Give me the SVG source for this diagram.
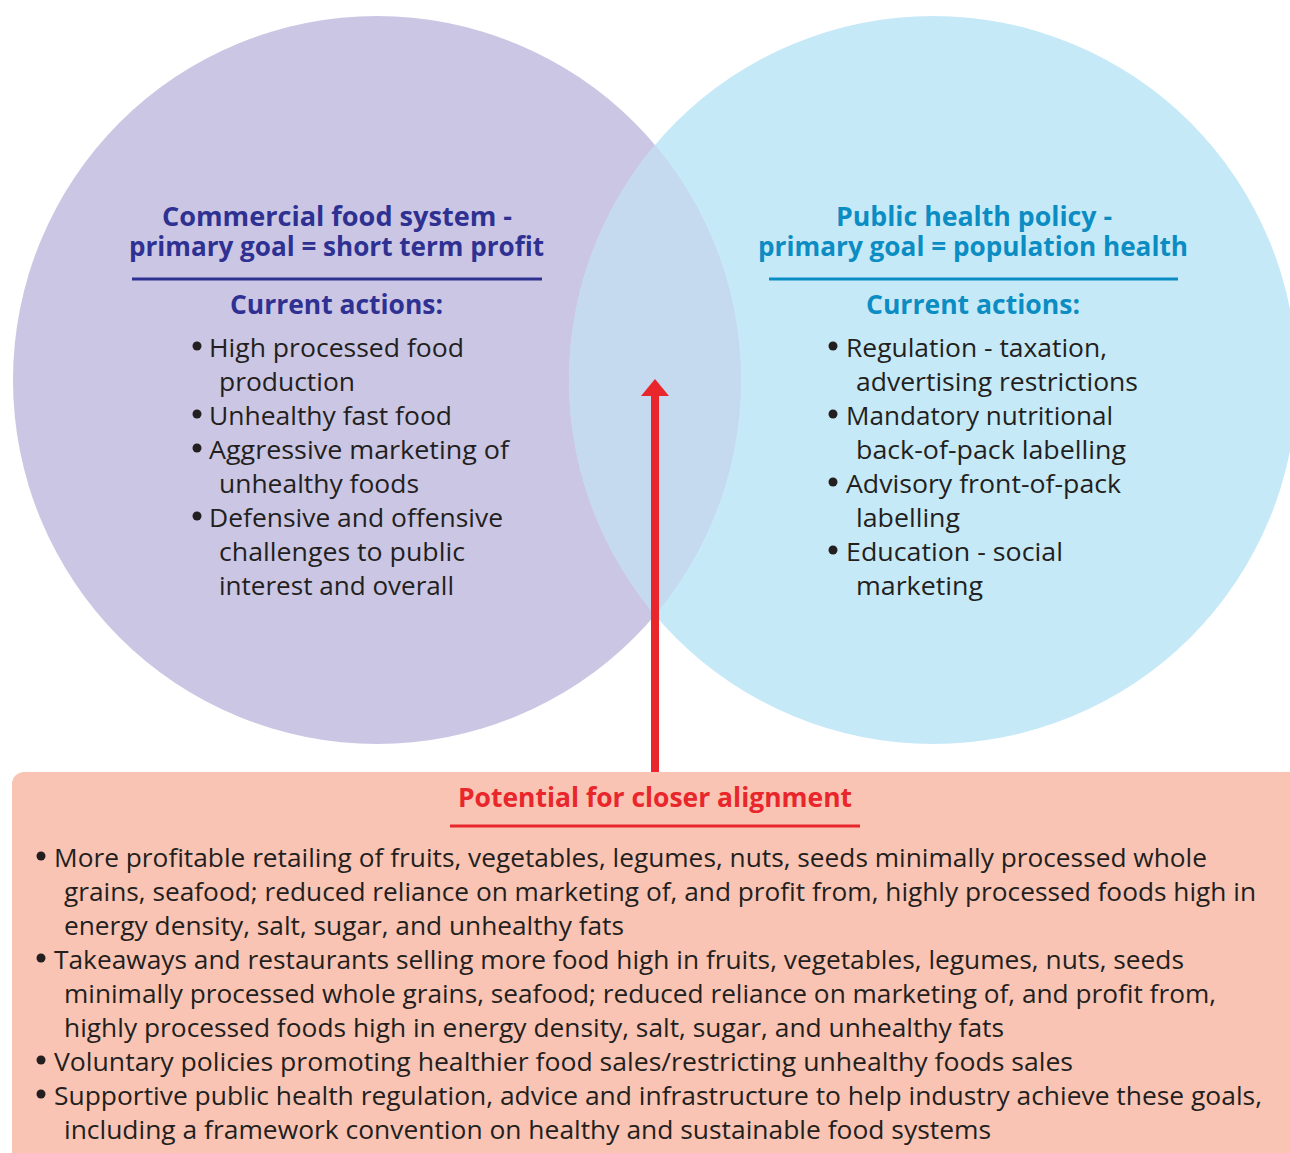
<svg xmlns="http://www.w3.org/2000/svg" width="1290" height="1153" viewBox="0 0 1290 1153">
  <defs>
    <style>
      .hl { font-family: "Open Sans", "Noto Sans", sans-serif; font-weight: 700; font-size: 26px; fill: #2e3192; }
      .hr { font-family: "Open Sans", "Noto Sans", sans-serif; font-weight: 700; font-size: 26px; fill: #0b8dc3; }
      .hb { font-family: "Open Sans", "Noto Sans", sans-serif; font-weight: 700; font-size: 26px; fill: #e8262b; }
      .t { font-family: "Open Sans", "Noto Sans", sans-serif; font-size: 25px; fill: #231f20; }
      .dot { fill: #231f20; }
    </style>
    <clipPath id="rightClip">
      <circle cx="933" cy="380" r="364"/>
    </clipPath>
    <marker id="arrowHead" markerWidth="17" markerHeight="28" refX="0" refY="14" orient="auto" markerUnits="userSpaceOnUse" viewBox="0 0 17 28">
      <polygon points="0,0 17,14 0,28" fill="#e8262b"/>
    </marker>
  </defs>
  <rect x="0" y="0" width="1290" height="1153" fill="#ffffff"/>

  <g id="commercial-food-system">
    <circle cx="377" cy="380" r="364" fill="#cbc6e3"/>
  </g>
  <g id="public-health-policy">
    <circle cx="933" cy="380" r="364" fill="#c6e9f8"/>
  </g>
  <g id="overlap">
    <circle cx="377" cy="380" r="364" fill="#c5d9ef" clip-path="url(#rightClip)"/>
  </g>

  <g id="commercial-text">
    <text class="hl" x="162" y="226" textLength="350" lengthAdjust="spacingAndGlyphs">Commercial food system -</text>
    <text class="hl" x="129" y="256" textLength="415" lengthAdjust="spacingAndGlyphs">primary goal = short term profit</text>
    <line x1="132" y1="279" x2="542" y2="279" stroke="#2e3192" stroke-width="3"/>
    <text class="hl" x="230" y="314" textLength="213" lengthAdjust="spacingAndGlyphs">Current actions:</text>
    <circle class="dot" cx="197" cy="346" r="4.5"/>
    <text class="t" x="209" y="357" textLength="255" lengthAdjust="spacingAndGlyphs">High processed food</text>
    <text class="t" x="219" y="391" textLength="136" lengthAdjust="spacingAndGlyphs">production</text>
    <circle class="dot" cx="197" cy="414" r="4.5"/>
    <text class="t" x="209" y="425" textLength="243" lengthAdjust="spacingAndGlyphs">Unhealthy fast food</text>
    <circle class="dot" cx="197" cy="448" r="4.5"/>
    <text class="t" x="209" y="459" textLength="300" lengthAdjust="spacingAndGlyphs">Aggressive marketing of</text>
    <text class="t" x="219" y="493" textLength="200" lengthAdjust="spacingAndGlyphs">unhealthy foods</text>
    <circle class="dot" cx="197" cy="516" r="4.5"/>
    <text class="t" x="209" y="527" textLength="294" lengthAdjust="spacingAndGlyphs">Defensive and offensive</text>
    <text class="t" x="219" y="561" textLength="246" lengthAdjust="spacingAndGlyphs">challenges to public</text>
    <text class="t" x="219" y="595" textLength="235" lengthAdjust="spacingAndGlyphs">interest and overall</text>
  </g>

  <g id="public-health-text">
    <text class="hr" x="836" y="226" textLength="276" lengthAdjust="spacingAndGlyphs">Public health policy -</text>
    <text class="hr" x="758" y="256" textLength="430" lengthAdjust="spacingAndGlyphs">primary goal = population health</text>
    <line x1="769" y1="279" x2="1178" y2="279" stroke="#0b8dc3" stroke-width="3"/>
    <text class="hr" x="866" y="314" textLength="214" lengthAdjust="spacingAndGlyphs">Current actions:</text>
    <circle class="dot" cx="833" cy="346" r="4.5"/>
    <text class="t" x="846" y="357" textLength="261" lengthAdjust="spacingAndGlyphs">Regulation - taxation,</text>
    <text class="t" x="856" y="391" textLength="282" lengthAdjust="spacingAndGlyphs">advertising restrictions</text>
    <circle class="dot" cx="833" cy="414" r="4.5"/>
    <text class="t" x="846" y="425" textLength="267" lengthAdjust="spacingAndGlyphs">Mandatory nutritional</text>
    <text class="t" x="856" y="459" textLength="270" lengthAdjust="spacingAndGlyphs">back-of-pack labelling</text>
    <circle class="dot" cx="833" cy="482" r="4.5"/>
    <text class="t" x="846" y="493" textLength="275" lengthAdjust="spacingAndGlyphs">Advisory front-of-pack</text>
    <text class="t" x="856" y="527" textLength="104" lengthAdjust="spacingAndGlyphs">labelling</text>
    <circle class="dot" cx="833" cy="550" r="4.5"/>
    <text class="t" x="846" y="561" textLength="217" lengthAdjust="spacingAndGlyphs">Education - social</text>
    <text class="t" x="856" y="595" textLength="127" lengthAdjust="spacingAndGlyphs">marketing</text>
  </g>

  <g id="closer-alignment">
    <rect x="12" y="772" width="1290" height="420" rx="12" ry="12" fill="#f9c4b3"/>
    <text class="hb" x="458" y="807" textLength="394" lengthAdjust="spacingAndGlyphs">Potential for closer alignment</text>
    <line x1="450" y1="826" x2="860" y2="826" stroke="#e8262b" stroke-width="3"/>
    <circle class="dot" cx="41" cy="856" r="4.5"/>
    <text class="t" x="54" y="867" textLength="1153" lengthAdjust="spacingAndGlyphs">More profitable retailing of fruits, vegetables, legumes, nuts, seeds minimally processed whole</text>
    <text class="t" x="64" y="901" textLength="1192" lengthAdjust="spacingAndGlyphs">grains, seafood; reduced reliance on marketing of, and profit from, highly processed foods high in</text>
    <text class="t" x="64" y="935" textLength="560" lengthAdjust="spacingAndGlyphs">energy density, salt, sugar, and unhealthy fats</text>
    <circle class="dot" cx="41" cy="958" r="4.5"/>
    <text class="t" x="54" y="969" textLength="1130" lengthAdjust="spacingAndGlyphs">Takeaways and restaurants selling more food high in fruits, vegetables, legumes, nuts, seeds</text>
    <text class="t" x="64" y="1003" textLength="1152" lengthAdjust="spacingAndGlyphs">minimally processed whole grains, seafood; reduced reliance on marketing of, and profit from,</text>
    <text class="t" x="64" y="1037" textLength="940" lengthAdjust="spacingAndGlyphs">highly processed foods high in energy density, salt, sugar, and unhealthy fats</text>
    <circle class="dot" cx="41" cy="1060" r="4.5"/>
    <text class="t" x="54" y="1071" textLength="1019" lengthAdjust="spacingAndGlyphs">Voluntary policies promoting healthier food sales/restricting unhealthy foods sales</text>
    <circle class="dot" cx="41" cy="1094" r="4.5"/>
    <text class="t" x="54" y="1105" textLength="1208" lengthAdjust="spacingAndGlyphs">Supportive public health regulation, advice and infrastructure to help industry achieve these goals,</text>
    <text class="t" x="64" y="1139" textLength="927" lengthAdjust="spacingAndGlyphs">including a framework convention on healthy and sustainable food systems</text>
  </g>

  <g id="connectors">
    <line x1="655" y1="772" x2="655" y2="396" stroke="#e8262b" stroke-width="8" marker-end="url(#arrowHead)"/>
  </g>
</svg>
